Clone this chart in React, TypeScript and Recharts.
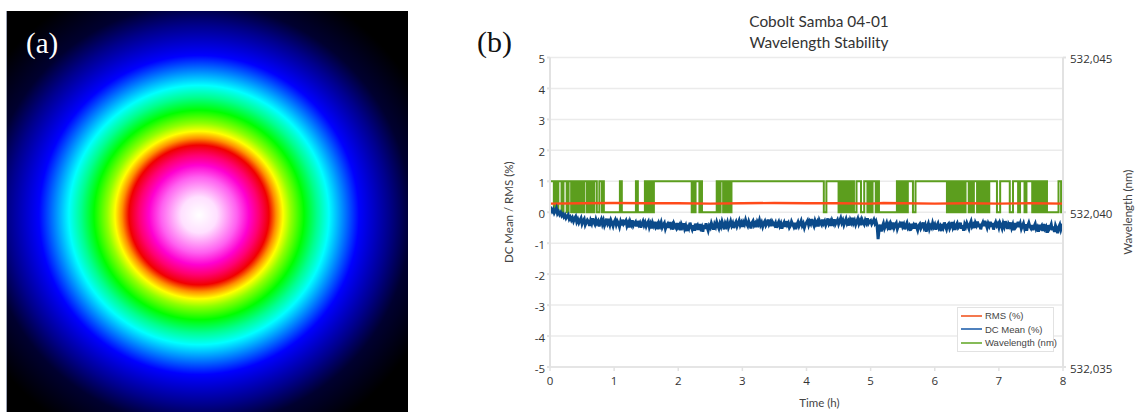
import { ComposedChart, Line, XAxis, YAxis, CartesianGrid, Legend, ReferenceArea, Label } from 'recharts';

const timeTicks = [0, 1, 2, 3, 4, 5, 6, 7, 8];
const percentTicks = [-5, -4, -3, -2, -1, 0, 1, 2, 3, 4, 5];
const wavelengthTicks = [532.035, 532.04, 532.045];
const legendOrder = ['RMS (%)', 'DC Mean (%)', 'Wavelength (nm)'];

const wavelengthHigh = 532.041;
const wavelengthLow = 532.04;

// hours during which the meter reads the lower wavelength
const lowSpans = [
  [0.06, 0.09], [0.11, 0.13], [0.18, 0.21], [0.26, 0.29], [0.33, 0.35], [0.37, 0.38], [0.4, 0.41], [0.43, 0.44],
  [0.46, 0.47], [0.49, 0.5], [0.52, 0.53], [0.57, 0.59], [0.61, 0.62], [0.64, 0.65], [0.67, 0.69], [0.73, 0.77],
  [0.81, 0.82], [0.84, 1.09], [1.12, 1.34], [1.37, 1.48], [1.5, 1.51], [1.53, 1.54], [1.56, 1.57], [1.59, 1.62],
  [2.21, 2.23], [2.25, 2.27], [2.33, 2.35], [2.37, 2.6], [2.63, 2.66], [2.7, 2.72], [2.74, 2.76], [2.78, 2.8],
  [2.81, 2.83], [4.27, 4.31], [4.5, 4.52], [4.54, 4.56], [4.57, 4.59], [4.62, 4.64], [4.65, 4.67], [4.68, 4.7],
  [4.71, 4.73], [4.74, 4.78], [4.85, 4.9], [4.95, 4.97], [5.0, 5.03], [5.08, 5.1], [5.13, 5.41], [5.43, 5.45],
  [5.47, 5.49], [5.51, 5.54], [5.55, 5.58], [5.66, 5.7], [6.19, 6.21], [6.23, 6.25], [6.27, 6.29], [6.3, 6.32],
  [6.34, 6.36], [6.38, 6.4], [6.42, 6.44], [6.46, 6.48], [6.53, 6.55], [6.58, 6.61], [6.66, 6.68], [6.7, 6.72],
  [6.74, 6.76], [6.78, 6.8], [6.82, 6.85], [6.97, 7.02], [7.17, 7.22], [7.3, 7.33], [7.4, 7.43], [7.52, 7.54],
  [7.56, 7.58], [7.6, 7.62], [7.64, 7.66], [7.68, 7.7], [7.72, 7.74], [7.75, 7.93], [7.97, 8.0],
];

const rmsHours = [0, 0.5, 1, 1.5, 2, 2.5, 3, 3.5, 4, 4.5, 5, 5.2, 5.5, 6, 6.5, 7, 7.5, 8];
const rmsValues = [0.28, 0.29, 0.3, 0.29, 0.29, 0.28, 0.29, 0.3, 0.29, 0.29, 0.28, 0.3, 0.29, 0.28, 0.29, 0.28, 0.29, 0.28];

// DC mean, one reading a minute
const dcMeanStepHours = 1 / 60;
const dcMeanValues = [
  0.07, 0.11, 0.03, 0.09, -0.02, 0.05, 0.13, -0.04, 0.02, -0.07, -0.01, -0.11, -0.06, -0.15, -0.09, -0.19, -0.13, -0.08, -0.22, -0.16, -0.25, -0.18, -0.29, -0.2, -0.14, -0.31, -0.23, -0.34, -0.26, -0.19,
  -0.37, -0.28, -0.22, -0.41, -0.33, -0.25, -0.3, -0.44, -0.27, -0.36, -0.2, -0.32, -0.39, -0.24, -0.35, -0.29, -0.46, -0.31, -0.23, -0.38, -0.27, -0.43, -0.34, -0.21, -0.37, -0.3, -0.41, -0.26, -0.35, -0.45,
  -0.32, -0.25, -0.4, -0.29, -0.36, -0.47, -0.31, -0.42, -0.24, -0.38, -0.33, -0.27, -0.44, -0.35, -0.49, -0.3, -0.39, -0.26, -0.43, -0.36, -0.31, -0.46, -0.28, -0.4, -0.34, -0.5, -0.37, -0.29, -0.42, -0.33,
  -0.45, -0.36, -0.3, -0.48, -0.38, -0.52, -0.34, -0.43, -0.31, -0.47, -0.4, -0.55, -0.36, -0.44, -0.33, -0.49, -0.41, -0.35, -0.53, -0.43, -0.38, -0.5, -0.32, -0.46, -0.4, -0.56, -0.37, -0.45, -0.51, -0.35,
  -0.48, -0.42, -0.58, -0.39, -0.47, -0.36, -0.53, -0.44, -0.61, -0.4, -0.5, -0.34, -0.46, -0.55, -0.42, -0.6, -0.37, -0.49, -0.43, -0.57, -0.38, -0.52, -0.46, -0.63, -0.41, -0.54, -0.36, -0.48, -0.59, -0.44,
  -0.5, -0.35, -0.45, -0.56, -0.39, -0.47, -0.32, -0.43, -0.52, -0.37, -0.46, -0.3, -0.41, -0.55, -0.36, -0.44, -0.33, -0.49, -0.4, -0.29, -0.43, -0.35, -0.51, -0.38, -0.31, -0.45, -0.36, -0.27, -0.42, -0.34,
  -0.47, -0.32, -0.39, -0.25, -0.37, -0.44, -0.3, -0.4, -0.52, -0.34, -0.28, -0.42, -0.36, -0.48, -0.31, -0.38, -0.26, -0.41, -0.33, -0.46, -0.35, -0.29, -0.43, -0.37, -0.24, -0.39, -0.32, -0.45, -0.3, -0.36,
  -0.42, -0.34, -0.5, -0.38, -0.31, -0.44, -0.36, -0.53, -0.4, -0.33, -0.47, -0.29, -0.41, -0.35, -0.49, -0.43, -0.3, -0.38, -0.46, -0.34, -0.55, -0.4, -0.32, -0.45, -0.37, -0.28, -0.43, -0.36, -0.5, -0.39,
  -0.33, -0.27, -0.41, -0.3, -0.37, -0.22, -0.35, -0.44, -0.28, -0.38, -0.31, -0.46, -0.26, -0.34, -0.4, -0.24, -0.36, -0.29, -0.42, -0.33, -0.2, -0.37, -0.3, -0.44, -0.27, -0.35, -0.23, -0.39, -0.32, -0.25,
  -0.38, -0.28, -0.19, -0.34, -0.26, -0.41, -0.31, -0.22, -0.36, -0.29, -0.43, -0.25, -0.33, -0.18, -0.35, -0.27, -0.4, -0.3, -0.21, -0.37, -0.28, -0.42, -0.24, -0.32, -0.39, -0.26, -0.34, -0.2, -0.36, -0.3,
  -0.27, -0.38, -0.31, -0.24, -0.36, -0.29, -0.42, -0.87, -0.55, -0.4, -0.62, -0.46, -0.36, -0.52, -0.43, -0.34, -0.48, -0.4, -0.57, -0.37, -0.45, -0.33, -0.5, -0.41, -0.35, -0.54, -0.44, -0.38, -0.49, -0.31,
  -0.46, -0.39, -0.55, -0.42, -0.34, -0.5, -0.44, -0.6, -0.37, -0.47, -0.41, -0.53, -0.35, -0.48, -0.58, -0.43, -0.38, -0.52, -0.45, -0.33, -0.49, -0.41, -0.63, -0.46, -0.37, -0.54, -0.44, -0.5, -0.35, -0.47,
  -0.4, -0.56, -0.43, -0.36, -0.51, -0.45, -0.61, -0.38, -0.48, -0.33, -0.46, -0.55, -0.41, -0.37, -0.52, -0.44, -0.32, -0.49, -0.4, -0.57, -0.43, -0.36, -0.5, -0.46, -0.34, -0.53, -0.42, -0.6, -0.39, -0.47,
  -0.35, -0.44, -0.53, -0.38, -0.29, -0.46, -0.4, -0.51, -0.34, -0.42, -0.3, -0.48, -0.37, -0.55, -0.41, -0.33, -0.45, -0.28, -0.39, -0.5, -0.36, -0.44, -0.31, -0.47, -0.35, -0.56, -0.4, -0.32, -0.43, -0.37,
  -0.49, -0.34, -0.42, -0.52, -0.36, -0.46, -0.29, -0.41, -0.54, -0.38, -0.45, -0.33, -0.5, -0.4, -0.58, -0.35, -0.47, -0.42, -0.31, -0.48, -0.37, -0.53, -0.44, -0.36, -0.51, -0.39, -0.6, -0.43, -0.34, -0.46,
  -0.52, -0.41, -0.58, -0.45, -0.37, -0.54, -0.48, -0.63, -0.4, -0.5, -0.44, -0.6, -0.38, -0.53, -0.47, -0.66, -0.42, -0.55, -0.49, -0.39, -0.58, -0.46, -0.64, -0.43, -0.52, -0.68, -0.48, -0.4, -0.56, -0.45,
  -0.38,
];

const beamRadii = [0, 18, 38, 50, 60, 70, 77, 84, 92, 105, 118, 130, 143, 160, 190, 212, 250];
const beamColors = ['#ffffff', '#ffe0ff', '#ff60f0', '#ff00d0', '#ff0070', '#f00000', '#ff9000', '#ffff00', '#90ff00', '#00ff00', '#00ff90', '#00ffff', '#0090ff', '#0000ff', '#00008c', '#000030', '#000000'];
const beamCorners = [{ x: 0, y: 0 }, { x: 1, y: 1 }];

const dcMeanData = dcMeanValues.map((v, i) => ({ t: i * dcMeanStepHours, v }));
const rmsData = rmsHours.map((t, i) => ({ t, v: rmsValues[i] }));
const wavelengthData = [{ t: 0, v: wavelengthHigh }];
lowSpans.forEach(([start, end]) => {
  wavelengthData.push({ t: start, v: wavelengthHigh }, { t: start, v: wavelengthLow }, { t: end, v: wavelengthLow }, { t: end, v: wavelengthHigh });
});
wavelengthData.push({ t: 8, v: wavelengthHigh });

const TICK_FONT = '"Open Sans", Lato, sans-serif';
const TEXT_FONT = 'Lato, "Open Sans", sans-serif';
const tickStyle = { fontFamily: TICK_FONT, fontSize: 11.5, fill: '#333' };
const labelStyle = { fontFamily: TEXT_FONT, fontSize: 11.5, fill: '#444', textAnchor: 'middle' as const };

function BeamLegend({ payload }: any) {
  const items = legendOrder.map((name) => (payload || []).find((p: any) => p.value === name)).filter(Boolean);
  return (
    <div style={{ width: 97, height: 45, boxSizing: 'border-box', background: '#fff', border: '1.5px solid #e2e2e2', padding: '1px 0 0 3px', fontFamily: '"Liberation Sans", sans-serif', fontSize: 9.5, color: '#444', whiteSpace: 'nowrap' }}>
      {items.map((p: any) => (
        <div key={p.value} style={{ display: 'flex', alignItems: 'center', height: 13.5 }}>
          <span style={{ width: 21, height: 2, marginRight: 3, flex: 'none', background: p.payload.legendColor }} />
          {p.value}
        </div>
      ))}
    </div>
  );
}

function BeamProfile() {
  return (
    <div style={{ position: 'absolute', left: 6, top: 11, width: 402, height: 401 }}>
      <ComposedChart width={402} height={401} margin={{ top: 0, right: 0, bottom: 0, left: 0 }} data={beamCorners}>
        <defs>
          <radialGradient id="beam" cx={193 / 402} cy={204 / 401} r={250 / 402}>
            {beamRadii.map((r, i) => (
              <stop key={r} offset={r / 250} stopColor={beamColors[i]} />
            ))}
          </radialGradient>
        </defs>
        <XAxis hide type="number" dataKey="x" domain={[0, 1]} />
        <YAxis hide type="number" domain={[0, 1]} />
        <Line dataKey="y" stroke="none" dot={false} isAnimationActive={false} />
        <ReferenceArea x1={0} x2={1} y1={0} y2={1} fill="url(#beam)" fillOpacity={1} stroke="none" />
      </ComposedChart>
      <div style={{ position: 'absolute', left: 0, top: 0, width: 1, height: 401, background: '#9aa0b0' }} />
      <div style={{ position: 'absolute', left: 20, top: 16, fontFamily: '"Liberation Serif", serif', fontSize: 29, color: '#fff' }}>(a)</div>
    </div>
  );
}

function StabilityChart() {
  return (
    <div style={{ position: 'absolute', left: 470, top: 0, width: 667, height: 412 }}>
      <ComposedChart width={667} height={412} margin={{ top: 57.5, right: 14, bottom: 15, left: 20 }}>
        <CartesianGrid horizontal vertical={false} yAxisId="percent" stroke="#ebebeb" strokeWidth={1.5} />
        <XAxis
          type="number"
          dataKey="t"
          domain={[0, 8]}
          ticks={timeTicks}
          height={30}
          allowDataOverflow
          interval={0}
          tick={tickStyle}
          tickSize={4}
          tickMargin={6}
          stroke="#e2e2e2"
          strokeWidth={1.5}
        >
          <Label value="Time (h)" position="bottom" offset={2} dx={13} style={labelStyle} />
        </XAxis>
        <YAxis
          yAxisId="percent"
          domain={[-5, 5]}
          ticks={percentTicks}
          width={60}
          interval={0}
          tick={{ ...tickStyle, dy: 1.5 }}
          tickSize={3}
          tickMargin={2}
          stroke="#e2e2e2"
          strokeWidth={2}
        >
          <Label value="DC Mean / RMS (%)" angle={-90} position="insideLeft" offset={19} style={labelStyle} />
        </YAxis>
        <YAxis
          yAxisId="wavelength"
          orientation="right"
          domain={[532.035, 532.045]}
          ticks={wavelengthTicks}
          width={60}
          interval={0}
          tick={{ ...tickStyle, dy: 1.5 }}
          tickFormatter={(v: number) => v.toFixed(3).replace('.', ',')}
          tickSize={3}
          tickMargin={4}
          stroke="#e2e2e2"
          strokeWidth={2}
        >
          <Label value="Wavelength (nm)" angle={-90} position="insideRight" offset={-5} style={labelStyle} />
        </YAxis>
        <Legend
          content={<BeamLegend />}
          layout="horizontal"
          verticalAlign="middle"
          wrapperStyle={{ position: 'absolute', left: 487, top: 307, width: 97, height: 45 }}
        />
        <Line
          yAxisId="wavelength"
          data={wavelengthData}
          dataKey="v"
          name="Wavelength (nm)"
          stroke="#5c9e1e"
          strokeWidth={2}
          dot={false}
          legendColor="#86bb58"
          isAnimationActive={false}
        />
        <Line
          yAxisId="percent"
          data={rmsData}
          dataKey="v"
          name="RMS (%)"
          stroke="#ff4a1a"
          strokeWidth={2.4}
          dot={false}
          legendColor="#f4784f"
          isAnimationActive={false}
        />
        <Line
          yAxisId="percent"
          data={dcMeanData}
          dataKey="v"
          name="DC Mean (%)"
          stroke="#0b4a8a"
          strokeWidth={3}
          dot={false}
          legendColor="#4f81bd"
          isAnimationActive={false}
        />
      </ComposedChart>
      <div style={{ position: 'absolute', left: 249, top: 11, width: 200, textAlign: 'center', fontFamily: TEXT_FONT, fontSize: 15.4, lineHeight: '21px', color: '#333' }}>
        Cobolt Samba 04-01
        <br />
        Wavelength Stability
      </div>
      <div style={{ position: 'absolute', left: 7, top: 25, fontFamily: '"Liberation Serif", serif', fontSize: 30, color: '#111' }}>(b)</div>
    </div>
  );
}

export default function App() {
  return (
    <div style={{ position: 'absolute', left: 0, top: 0, width: 1137, height: 412, overflow: 'hidden', background: '#fff' }}>
      <BeamProfile />
      <StabilityChart />
    </div>
  );
}
